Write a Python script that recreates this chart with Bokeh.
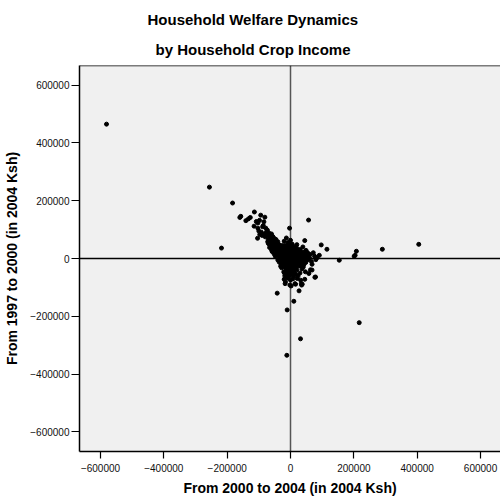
from bokeh.plotting import figure
from bokeh.models import Span, Title, FixedTicker, BasicTickFormatter
from bokeh.embed import file_html
from bokeh.resources import INLINE

# Change in household welfare (crop income), in 2004 Ksh
# (x = change 2000->2004, y = change 1997->2000)
outliers = [(-581000, 465000), (-256000, 247000), (-183000, 192000), (-218000, 36000),
            (57000, 133000), (405000, 49000), (290000, 32000), (208000, 25000),
            (204000, 11000), (201000, 8000), (154000, -6000), (217000, -222000),
            (31600, -278000), (-11600, -335000), (-10500, -178000), (10500, -148000),
            (-42000, -120000), (27000, -112000)]

upper_left_arm = [(-114000, 161000), (-157000, 146000), (-160000, 142000), (-94000, 150000),
                  (-81000, 143000), (-127000, 142000), (-133000, 137000), (-141000, 131000),
                  (-98000, 132000), (-108000, 128000), (-103000, 123000), (-84000, 127000),
                  (-115000, 112000), (-86000, 114000), (-103000, 105000), (-73000, 98000),
                  (-92000, 91000), (-97000, 83000), (-84000, 84000), (-104000, 70000),
                  (-72000, 86000), (-63000, 75000), (-88000, 110000), (-78000, 105000),
                  (-76000, 92000), (-68000, 88000), (-74000, 80000), (-80000, 75000),
                  (-66000, 78000), (-60000, 85000), (-62000, 70000), (-56000, 76000),
                  (-58000, 64000), (-52000, 70000), (-70000, 66000), (-64000, 58000),
                  (-50000, 60000), (-55000, 52000), (-46000, 66000), (-48000, 54000),
                  (-44000, 48000), (-40000, 58000), (-38000, 50000), (-42000, 42000),
                  (-36000, 44000), (-60000, 50000), (-54000, 44000), (-66000, 48000),
                  (-72000, 58000), (-90000, 80000), (-100000, 95000)]

upper_scatter = [(-3000, 105000), (-13000, 71000), (0, 63000), (45000, 62000), (97000, 47000),
                 (115000, 32000), (39000, 40000), (49000, 28000), (53000, 17000),
                 (-20000, 60000), (-8000, 55000), (5000, 50000), (20000, 48000)]

right_spur = [(62000, 14000), (76000, 8000), (84000, 3000), (91000, 11000), (68000, -20000),
              (80000, -4000), (66000, -10000), (72000, 20000), (50000, 12000), (56000, 8000),
              (54000, 20000), (46000, 24000), (60000, 2000), (52000, -6000), (48000, -14000),
              (42000, -22000), (40000, -30000), (36000, -36000), (58000, -2000)]

lower_tail = [(63000, -39000), (77000, -65000), (45000, -72000), (34000, -87000), (35000, -92000),
              (14000, -87000), (-17000, -87000), (-2000, -92000), (-31000, -27000),
              (-20000, -49000), (-21000, -46000), (-10000, -64000), (-16000, -81000),
              (2000, -95000), (16000, -89000), (32000, -75000), (37000, -89000),
              (47000, -46000), (58000, -52000), (68000, -40000), (79000, -64000),
              (11000, -58000), (21000, -69000), (-8000, -68000), (0, -75000), (8000, -70000),
              (-20000, -72000), (30000, -50000), (24000, -60000)]

left_edge = [(-60000, 30000), (-66000, 38000), (-58000, 24000), (-52000, 16000), (-50000, 36000),
             (-46000, 28000), (-62000, 44000), (-70000, 52000), (-48000, 8000), (-40000, -5000),
             (-36000, -12000), (-30000, -20000), (-28000, -32000)]

core = [(-34000, 45000), (-26000, 45000), (-18000, 45000), (-10000, 45000), (-2000, 45000), (6000, 45000),
        (-38000, 38000), (-30000, 38000), (-22000, 38000), (-14000, 38000), (-6000, 38000), (2000, 38000),
        (10000, 38000), (18000, 38000),
        (-42000, 31000), (-34000, 31000), (-27000, 31000), (-19000, 31000), (-11000, 31000), (-3000, 31000),
        (5000, 31000), (13000, 31000), (22000, 31000), (30000, 31000),
        (-40000, 24000), (-32000, 24000), (-24000, 24000), (-16000, 24000), (-8000, 24000), (0, 24000),
        (8000, 24000), (16000, 24000), (24000, 24000), (33000, 24000),
        (-44000, 17000), (-36000, 17000), (-28000, 17000), (-20000, 17000), (-12000, 17000), (-4000, 17000),
        (4000, 17000), (12000, 17000), (20000, 17000), (28000, 17000), (36000, 17000), (44000, 17000),
        (-38000, 10000), (-30000, 10000), (-22000, 10000), (-14000, 10000), (-6000, 10000), (2000, 10000),
        (10000, 10000), (18000, 10000), (26000, 10000), (34000, 10000), (42000, 10000),
        (-34000, 3000), (-26000, 3000), (-18000, 3000), (-10000, 3000), (-2000, 3000), (6000, 3000),
        (14000, 3000), (22000, 3000), (30000, 3000), (38000, 3000), (48000, 3000),
        (-30000, -4000), (-22000, -4000), (-14000, -4000), (-6000, -4000), (2000, -4000), (10000, -4000),
        (18000, -4000), (26000, -4000), (34000, -4000), (42000, -4000),
        (-26000, -11000), (-18000, -11000), (-10000, -11000), (-2000, -11000), (6000, -11000),
        (14000, -11000), (22000, -11000), (30000, -11000), (38000, -11000),
        (-22000, -18000), (-14000, -18000), (-6000, -18000), (2000, -18000), (10000, -18000),
        (18000, -18000), (26000, -18000), (34000, -18000),
        (-18000, -25000), (-10000, -25000), (-2000, -25000), (6000, -25000), (14000, -25000),
        (22000, -25000), (30000, -25000),
        (-16000, -32000), (-8000, -32000), (0, -32000), (8000, -32000), (16000, -32000),
        (-12000, -39000), (-4000, -39000), (4000, -39000), (12000, -39000), (20000, -39000),
        (-14000, -46000), (-6000, -46000), (2000, -46000), (10000, -46000),
        (-10000, -53000), (-2000, -53000), (6000, -53000), (16000, -53000),
        (-18000, -60000), (-4000, -60000), (8000, -60000)]

tick_values = [-600000, -400000, -200000, 0, 200000, 400000, 600000]
title_line1 = "Household Welfare Dynamics"
title_line2 = "by Household Crop Income"
x_label = "From 2000 to 2004 (in 2004 Ksh)"
y_label = "From 1997 to 2000 (in 2004 Ksh)"

groups = [outliers, upper_left_arm, upper_scatter, right_spur, lower_tail, left_edge, core]
xs = [pt[0] for g in groups for pt in g]
ys = [pt[1] for g in groups for pt in g]

FONT = "Liberation Sans"

p = figure(width=500, height=502, x_range=(-666300, 663100), y_range=(-668000, 668000),
           output_backend="svg", toolbar_location=None, title=None,
           min_border_left=79, min_border_right=0, min_border_top=65, min_border_bottom=51)

p.background_fill_color = "#f0f0f0"
p.border_fill_color = "white"
p.outline_line_color = None
p.xgrid.visible = False
p.ygrid.visible = False

t2 = Title(text=title_line2, align="left", offset=76, text_font=FONT, text_font_size="15px",
           text_font_style="bold", text_color="black", standoff=16)
t1 = Title(text=title_line1, align="left", offset=68, text_font=FONT, text_font_size="15px",
           text_font_style="bold", text_color="black", standoff=6)
p.add_layout(t2, "above")
p.add_layout(t1, "above")

for ax in (p.xaxis[0], p.yaxis[0]):
    ax.ticker = FixedTicker(ticks=tick_values)
    ax.formatter = BasicTickFormatter(use_scientific=False)
    ax.minor_tick_line_color = None
    ax.major_tick_in = 0
    ax.axis_line_color = "black"
    ax.axis_line_width = 1.5
    ax.major_tick_line_color = "black"
    ax.major_tick_line_width = 1.2
    ax.major_label_text_font = FONT
    ax.major_label_text_font_size = "10px"
    ax.major_label_text_color = "#111111"
    ax.axis_label_text_font = FONT
    ax.axis_label_text_font_size = "14px"
    ax.axis_label_text_font_style = "bold"
    ax.axis_label_text_color = "black"

p.xaxis.axis_label = x_label
p.yaxis.axis_label = y_label
p.xaxis.major_tick_out = 7
p.xaxis.major_label_standoff = 5
p.xaxis.axis_label_standoff = 5
p.yaxis.major_tick_out = 8
p.yaxis.major_label_standoff = 2
p.yaxis.axis_label_standoff = 7

top_line = Span(location=668000, dimension="width", line_color="black", line_width=1.5)
vzero = Span(location=0, dimension="height", line_color="#555555", line_width=1.5, level="underlay")
hzero = Span(location=0, dimension="width", line_color="black", line_width=1.5, level="underlay")
p.add_layout(top_line)
p.add_layout(vzero)
p.add_layout(hzero)

p.scatter(xs, ys, size=4, color="black", marker="circle")

open("out.html", "w").write(file_html(p, INLINE))
